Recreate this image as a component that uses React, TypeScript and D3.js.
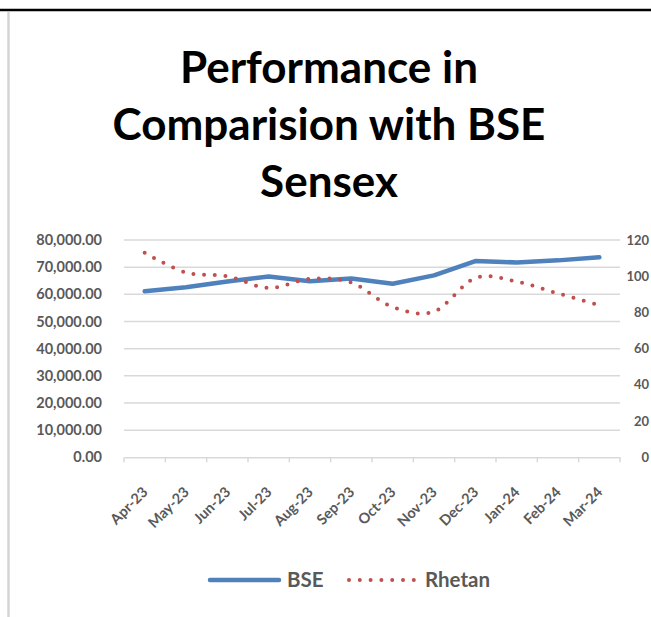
import React, { useEffect, useRef } from 'react';
import * as d3 from 'd3';

const months = ['Apr-23', 'May-23', 'Jun-23', 'Jul-23', 'Aug-23', 'Sep-23', 'Oct-23', 'Nov-23', 'Dec-23', 'Jan-24', 'Feb-24', 'Mar-24'];
const bseValues = [61112, 62622, 64718, 66527, 64831, 65828, 63874, 66988, 72240, 71752, 72500, 73651];
const rhetanValues = [113, 102, 100, 93.5, 98.5, 96.5, 83, 80.5, 99, 97, 90.5, 84];
const leftTicks = [0, 10000, 20000, 30000, 40000, 50000, 60000, 70000, 80000];
const rightTicks = [0, 20, 40, 60, 80, 100, 120];
const titleLines = ['Performance in', 'Comparision with BSE', 'Sensex'];
const seriesNames = ['BSE', 'Rhetan'];

const W = 651;
const H = 617;
const FONT = 'Lato, "Open Sans", sans-serif';
const LABEL = '#595959';
const GRID = '#D9D9D9';
const BLUE = '#4F81BD';
const RED = '#C0504D';

const App = () => {
  const ref = useRef<SVGSVGElement>(null);

  useEffect(() => {
    const svg = d3.select(ref.current).attr('width', W).attr('height', H);
    svg.selectAll('*').remove();

    // frame bits from the screenshot
    svg.append('line')
      .attr('x1', 0).attr('x2', W).attr('y1', 10).attr('y2', 10)
      .attr('stroke', '#000').attr('stroke-width', 2.5);
    svg.append('line')
      .attr('x1', 8.5).attr('x2', 8.5).attr('y1', 12).attr('y2', H)
      .attr('stroke', '#D4D4D4').attr('stroke-width', 2.5);

    // title
    const titleY = [83, 140, 197];
    svg.append('g').selectAll('text')
      .data(titleLines)
      .enter()
      .append('text')
      .attr('x', 329)
      .attr('y', (d, i) => titleY[i])
      .attr('text-anchor', 'middle')
      .attr('font-family', FONT)
      .attr('font-weight', 700)
      .attr('font-size', 44)
      .attr('fill', '#000')
      .text(d => d);

    const x = d3.scaleBand().domain(months).range([124, 620]);
    const yLeft = d3.scaleLinear().domain([0, 80000]).range([457.3, 240]);
    const yRight = d3.scaleLinear().domain([0, 120]).range([457.3, 240]);
    const cx = (m: string) => (x(m) as number) + x.bandwidth() / 2;

    // gridlines
    svg.append('g').selectAll('line')
      .data(leftTicks.slice(1))
      .enter()
      .append('line')
      .attr('x1', 124).attr('x2', 620)
      .attr('y1', d => yLeft(d)).attr('y2', d => yLeft(d))
      .attr('stroke', GRID).attr('stroke-width', 1.5);

    // x axis
    const xAxis = d3.axisBottom(x).tickSize(0).tickFormat(() => '');
    const gx = svg.append('g').attr('transform', `translate(0,${yLeft(0)})`).call(xAxis);
    gx.select('.domain').attr('stroke', GRID).attr('stroke-width', 1.5);
    gx.selectAll('.tick').remove();
    const bounds = months.map(m => x(m) as number).concat([620]);
    gx.selectAll('line.bound')
      .data(bounds)
      .enter()
      .append('line')
      .attr('class', 'bound')
      .attr('x1', d => d).attr('x2', d => d)
      .attr('y1', 0).attr('y2', 5)
      .attr('stroke', GRID).attr('stroke-width', 1.5);

    svg.append('g').selectAll('text')
      .data(months)
      .enter()
      .append('text')
      .attr('transform', d => `translate(${cx(d) + 4},${493}) rotate(-45)`)
      .attr('text-anchor', 'end')
      .attr('font-family', FONT)
      .attr('font-weight', 700)
      .attr('font-size', 14.5)
      .attr('fill', LABEL)
      .text(d => d);

    // left axis labels
    svg.append('g').selectAll('text')
      .data(leftTicks)
      .enter()
      .append('text')
      .attr('x', 102)
      .attr('y', d => yLeft(d))
      .attr('dy', '0.35em')
      .attr('text-anchor', 'end')
      .attr('font-family', FONT)
      .attr('font-weight', 700)
      .attr('font-size', 14.5)
      .attr('fill', LABEL)
      .text(d => d3.format(',.2f')(d));

    // right axis labels, pulled in so they stay inside the picture
    svg.append('g').selectAll('text')
      .data(rightTicks)
      .enter()
      .append('text')
      .attr('x', 649)
      .attr('y', d => yRight(d))
      .attr('dy', '0.35em')
      .attr('text-anchor', 'end')
      .attr('font-family', FONT)
      .attr('font-weight', 700)
      .attr('font-size', 13)
      .attr('fill', LABEL)
      .text(d => String(d));

    // lines
    const bseLine = d3.line<number>()
      .x((d, i) => cx(months[i]))
      .y(d => yLeft(d));
    svg.append('path')
      .datum(bseValues)
      .attr('d', bseLine)
      .attr('fill', 'none')
      .attr('stroke', BLUE)
      .attr('stroke-width', 4.5)
      .attr('stroke-linecap', 'round')
      .attr('stroke-linejoin', 'round');

    const rhetanLine = d3.line<number>()
      .x((d, i) => cx(months[i]))
      .y(d => yRight(d))
      .curve(d3.curveCatmullRom.alpha(0));
    svg.append('path')
      .datum(rhetanValues)
      .attr('d', rhetanLine)
      .attr('fill', 'none')
      .attr('stroke', RED)
      .attr('stroke-width', 4)
      .attr('stroke-linecap', 'round')
      .attr('stroke-dasharray', '0 10.7');

    // legend
    const leg = svg.append('g');
    leg.append('line')
      .attr('x1', 210).attr('x2', 279).attr('y1', 580).attr('y2', 580)
      .attr('stroke', BLUE).attr('stroke-width', 4.5).attr('stroke-linecap', 'round');
    leg.append('line')
      .attr('x1', 349).attr('x2', 414).attr('y1', 580).attr('y2', 580)
      .attr('stroke', RED).attr('stroke-width', 4).attr('stroke-linecap', 'round')
      .attr('stroke-dasharray', '0 10.8');
    leg.selectAll('text')
      .data(seriesNames)
      .enter()
      .append('text')
      .attr('x', (d, i) => (i === 0 ? 287 : 425))
      .attr('y', 580)
      .attr('dy', '0.35em')
      .attr('font-family', FONT)
      .attr('font-weight', 700)
      .attr('font-size', 20.5)
      .attr('fill', LABEL)
      .text(d => d);
  }, []);

  return (
    <div style={{ position: 'absolute', left: 0, top: 0, width: W, height: H, background: '#fff' }}>
      <svg ref={ref} style={{ display: 'block' }}></svg>
    </div>
  );
};

export default App;
